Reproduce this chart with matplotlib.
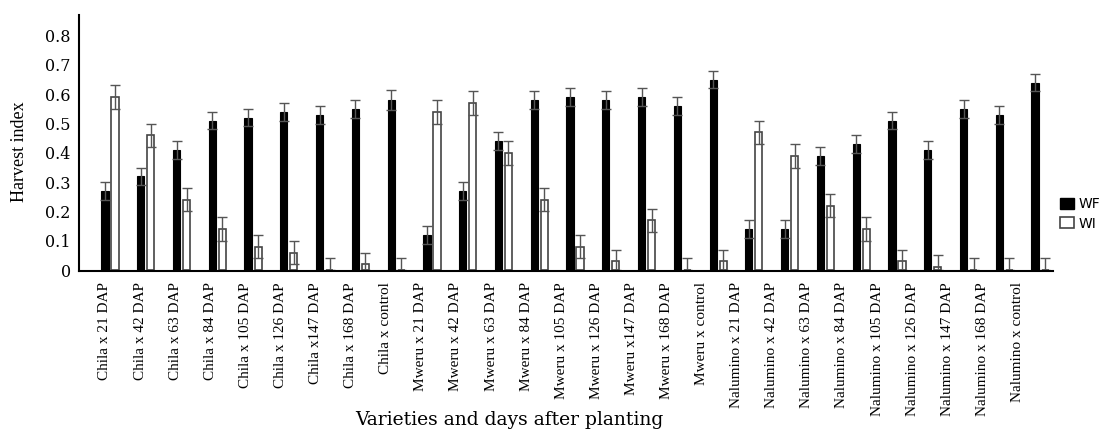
import numpy as np
import matplotlib
matplotlib.use('Agg')
import matplotlib.pyplot as plt
from matplotlib.patches import Patch

# Datos
etiquetas = ['Chila x 21 DAP', 'Chila x 42 DAP', 'Chila x 63 DAP', 'Chila x 84 DAP',
             'Chila x 105 DAP', 'Chila x 126 DAP', 'Chila x147 DAP', 'Chila x 168 DAP',
             'Chila x control',
             'Mweru x 21 DAP', 'Mweru x 42 DAP', 'Mweru x 63 DAP', 'Mweru x 84 DAP',
             'Mweru x 105 DAP', 'Mweru x 126 DAP', 'Mweru x147 DAP', 'Mweru x 168 DAP',
             'Mweru x control',
             'Nalumino x 21 DAP', 'Nalumino x 42 DAP', 'Nalumino x 63 DAP',
             'Nalumino x 84 DAP', 'Nalumino x 105 DAP', 'Nalumino x 126 DAP',
             'Nalumino x 147 DAP', 'Nalumino x 168 DAP', 'Nalumino x control']

wf = [0.27, 0.32, 0.41, 0.51, 0.52, 0.54, 0.53, 0.55, 0.58,
      0.12, 0.27, 0.44, 0.58, 0.59, 0.58, 0.59, 0.56, 0.65,
      0.14, 0.14, 0.39, 0.43, 0.51, 0.41, 0.55, 0.53, 0.64]
wf_err = [0.03, 0.03, 0.03, 0.03, 0.03, 0.03, 0.03, 0.03, 0.035,
          0.03, 0.03, 0.03, 0.03, 0.03, 0.03, 0.03, 0.03, 0.03,
          0.03, 0.03, 0.03, 0.03, 0.03, 0.03, 0.03, 0.03, 0.03]

wi = [0.59, 0.46, 0.24, 0.14, 0.08, 0.06, 0.0, 0.02, 0.0,
      0.54, 0.57, 0.40, 0.24, 0.08, 0.03, 0.17, 0.0, 0.03,
      0.47, 0.39, 0.22, 0.14, 0.03, 0.01, 0.0, 0.0, 0.0]
wi_err = [0.04, 0.04, 0.04, 0.04, 0.04, 0.04, 0.04, 0.04, 0.04,
          0.04, 0.04, 0.04, 0.04, 0.04, 0.04, 0.04, 0.04, 0.04,
          0.04, 0.04, 0.04, 0.04, 0.04, 0.04, 0.04, 0.04, 0.04]

x = np.arange(len(etiquetas))

fig = plt.figure(figsize=(11.05, 4.32), dpi=100)
ax = fig.add_axes([0.0715, 0.3727, 0.8815, 0.5923])

ancho = 0.2
ax.bar(x - 0.14, wf, ancho, color='black', edgecolor='black', linewidth=0.8)
ax.bar(x + 0.14, wi, ancho, color='white', edgecolor='#444444', linewidth=1.2)

# Barras de error (con tapa arriba y abajo)
ax.errorbar(x - 0.14, wf, yerr=wf_err, fmt='none', ecolor='#555555',
            elinewidth=1, capsize=3.5, capthick=1)
ax.errorbar(x + 0.14, wi, yerr=[np.minimum(wi, wi_err), wi_err], fmt='none',
            ecolor='#555555', elinewidth=1, capsize=3.5, capthick=1)

ax.set_xlim(-0.866, 26.363)
ax.set_ylim(-0.003, 0.87)
ax.set_yticks(np.arange(0, 0.81, 0.1))
ax.set_yticklabels(['0', '0.1', '0.2', '0.3', '0.4', '0.5', '0.6', '0.7', '0.8'],
                   fontfamily='DejaVu Serif', fontsize=11.5)
ax.tick_params(axis='y', length=0, pad=6)

ax.set_xticks(x * 0.981 - 0.14)
ax.set_xticklabels(etiquetas, rotation=90, fontfamily='Liberation Serif', fontsize=11)
ax.tick_params(axis='x', length=0, pad=8)

for lado in ['top', 'right']:
    ax.spines[lado].set_visible(False)
ax.spines['left'].set_linewidth(1.5)
ax.spines['bottom'].set_linewidth(1.5)

ax.set_ylabel('Harvest index', fontfamily='Liberation Serif', fontsize=13)
ax.yaxis.set_label_coords(-0.052, 0.465)
fig.text(0.461, 0.028, 'Varieties and days after planting', ha='center', va='center',
         fontfamily='DejaVu Serif', fontsize=13.5)

handles = [Patch(facecolor='black', edgecolor='black'),
           Patch(facecolor='white', edgecolor='#444444', linewidth=1.2)]
fig.legend(handles, ['WF', 'WI'], loc='center left', bbox_to_anchor=(0.948, 0.505),
           frameon=False, handlelength=1.0, handleheight=0.8, handletextpad=0.3,
           labelspacing=0.4, prop={'family': 'DejaVu Sans', 'size': 10})

fig.savefig('out.png', dpi=100)
